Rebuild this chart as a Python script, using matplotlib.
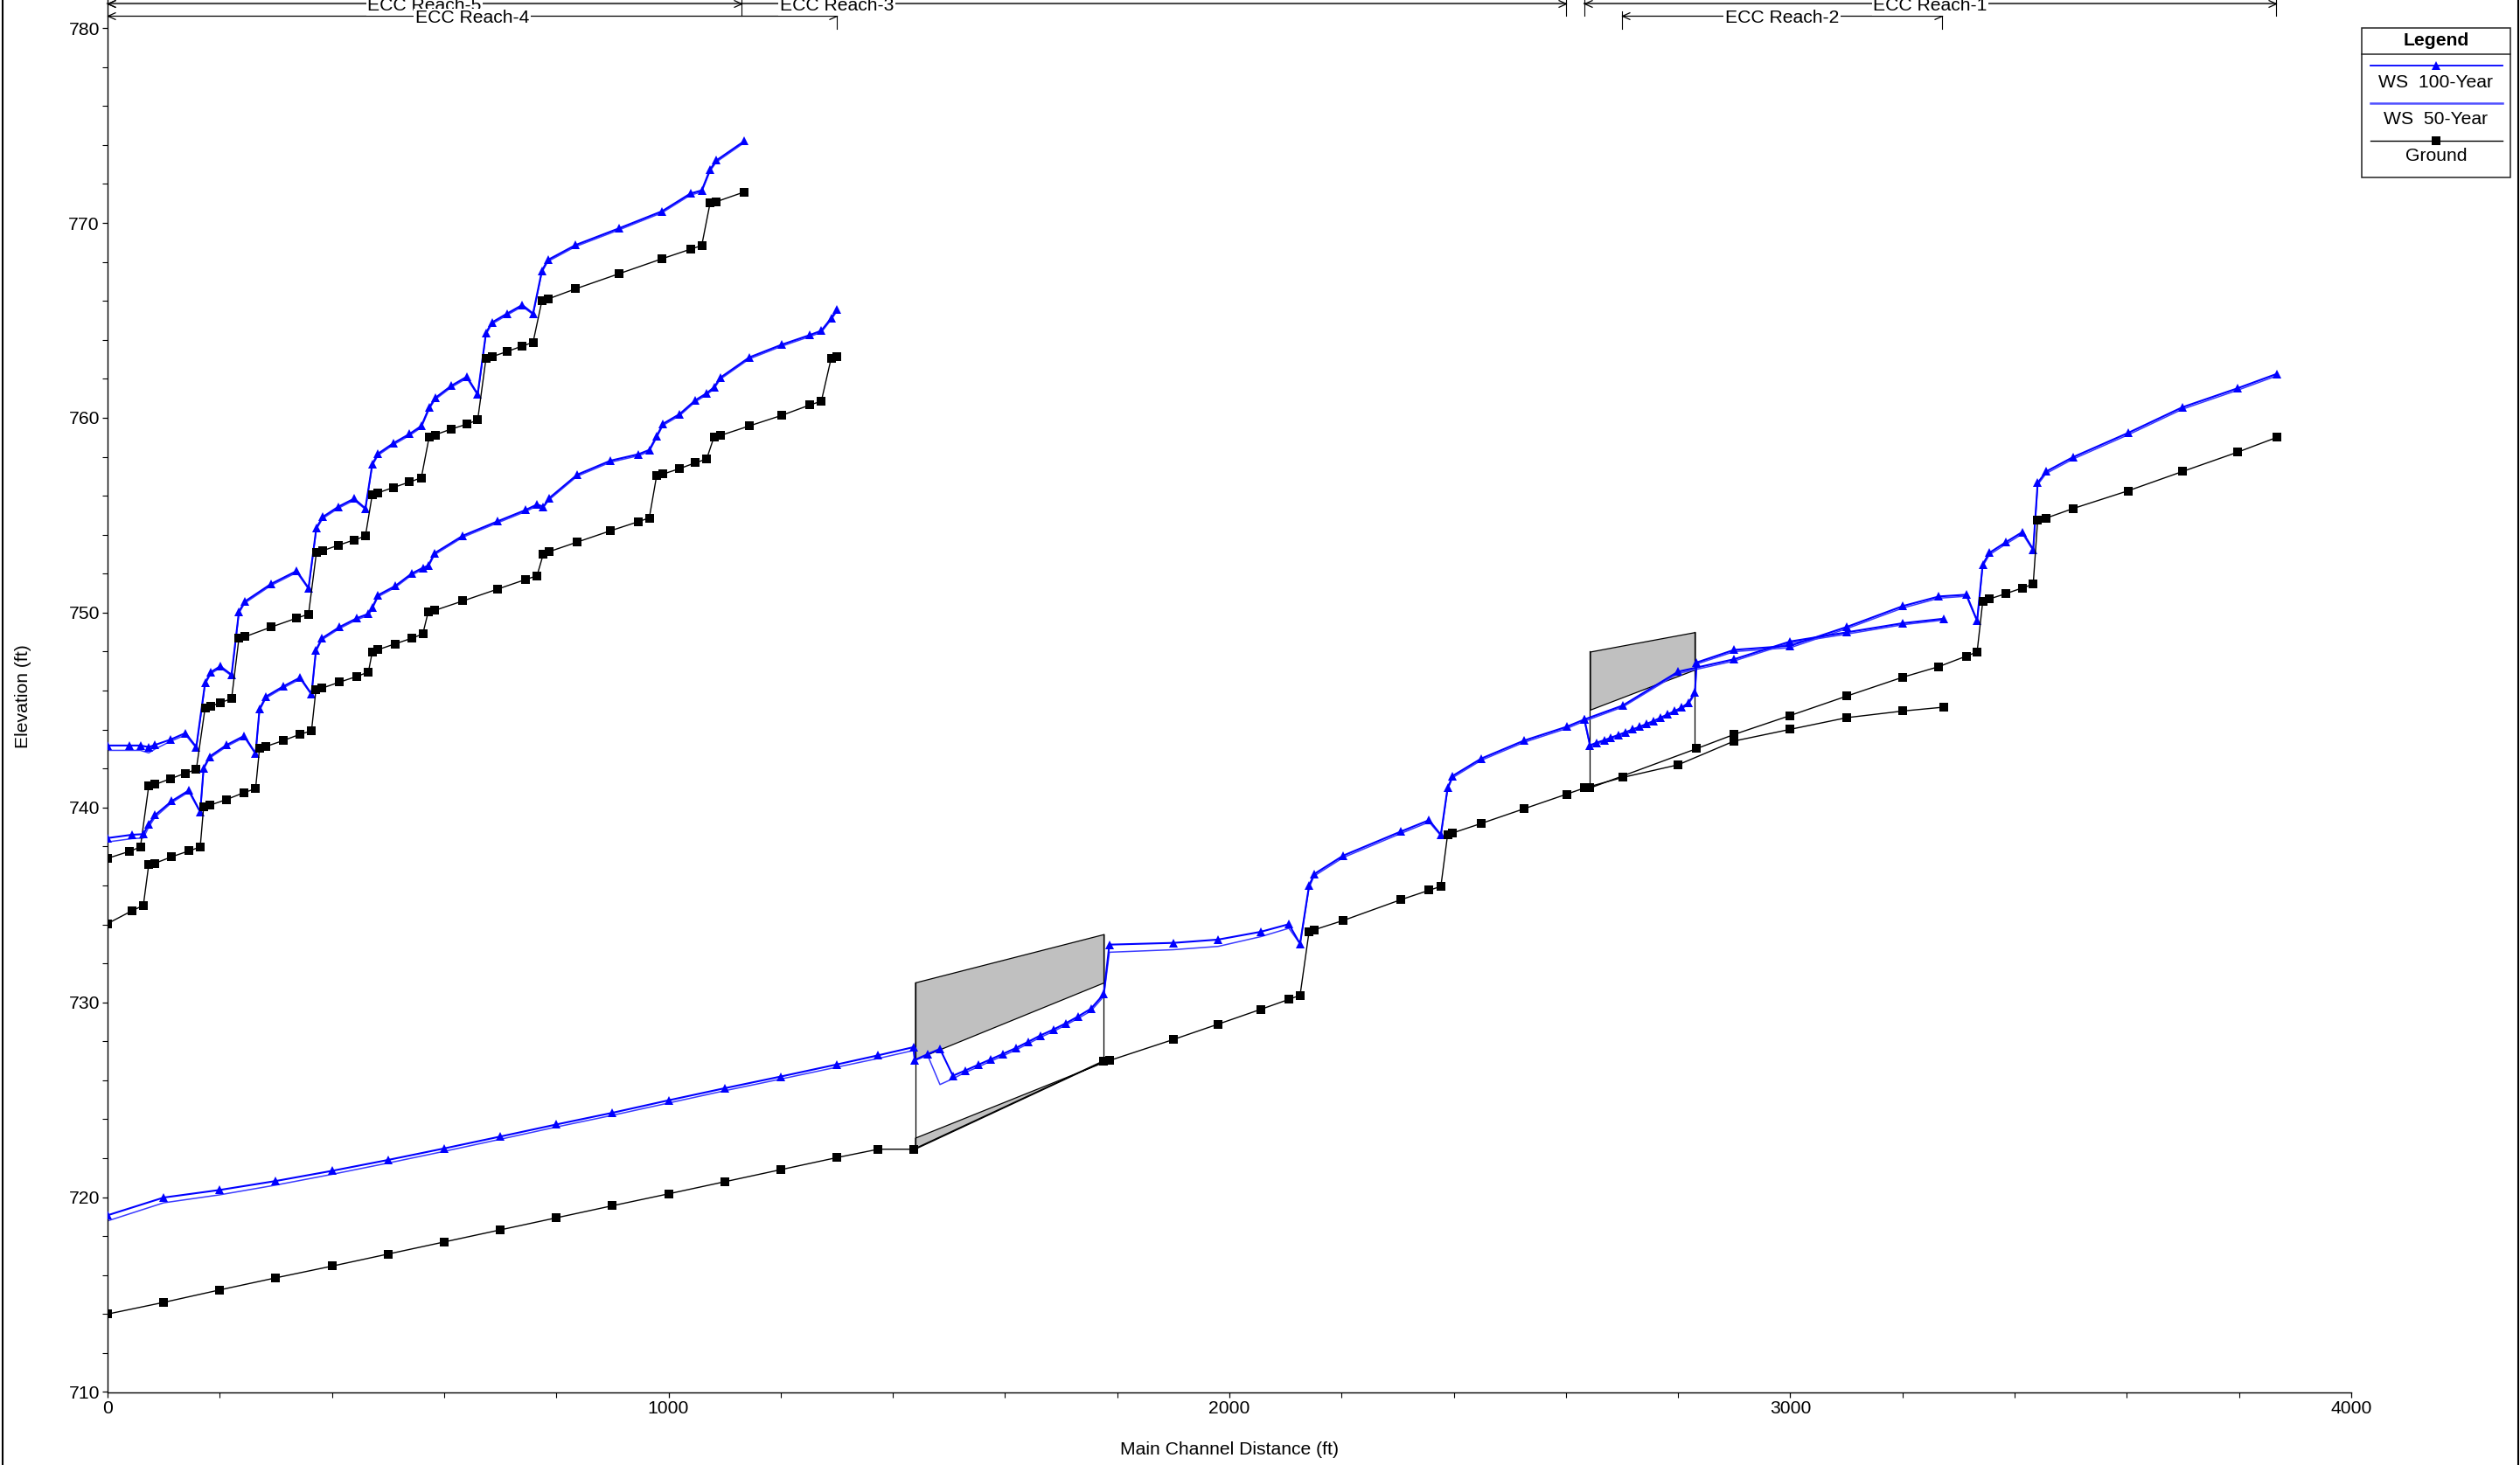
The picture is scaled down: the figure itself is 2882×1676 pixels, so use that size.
import matplotlib
matplotlib.use('Agg')
import matplotlib.pyplot as plt
from matplotlib.transforms import blended_transform_factory
from matplotlib.patches import Rectangle
from matplotlib.path import Path
from matplotlib.lines import Line2D
from matplotlib.ticker import MultipleLocator

plt.rcParams['font.family'] = ['Liberation Sans', 'DejaVu Sans']

# ---------------- data ----------------
# ECC Reach-5 (upper left profile)
r5_x = [0, 39.3, 58.6, 73.4, 84.8, 112.7, 139.0, 158.2, 173.9, 184.4,
        201.0, 221.1, 234.2, 244.7, 291.9, 337.4, 358.3, 372.3, 383.7, 411.7,
        439.6, 459.7, 472.0, 482.4, 510.4, 538.4, 559.4, 573.3, 583.8, 612.7,
        640.6, 659.9, 674.7, 685.2, 712.3, 739.4, 758.6, 774.4, 784.9, 834.7,
        911.6, 988.5, 1039.2, 1059.3, 1074.1, 1085.5, 1135.3]
r5_ground = [737.39, 737.75, 737.97, 741.10, 741.18, 741.48, 741.76, 741.95, 745.11, 745.19,
             745.38, 745.58, 748.68, 748.76, 749.26, 749.72, 749.92, 753.07, 753.18, 753.46,
             753.73, 753.92, 756.07, 756.15, 756.43, 756.70, 756.92, 759.01, 759.12, 759.42,
             759.67, 759.89, 763.05, 763.13, 763.40, 763.68, 763.87, 766.01, 766.09, 766.62,
             767.39, 768.16, 768.65, 768.84, 771.01, 771.09, 771.59]
r5_ws100 = [743.18, 743.18, 743.18, 743.10, 743.21, 743.49, 743.82, 743.10, 746.40, 746.95,
            747.25, 746.81, 750.05, 750.57, 751.48, 752.14, 751.26, 754.36, 754.91, 755.44,
            755.85, 755.35, 757.63, 758.16, 758.71, 759.17, 759.58, 760.52, 761.01, 761.64,
            762.11, 761.21, 764.36, 764.89, 765.35, 765.79, 765.35, 767.55, 768.10, 768.87,
            769.72, 770.60, 771.51, 771.67, 772.74, 773.21, 774.20]
r5_ws50 = [742.93, 742.93, 742.93, 742.80, 743.00, 743.40, 743.72, 743.05, 746.32, 746.87,
           747.17, 746.76, 749.97, 750.49, 751.40, 752.06, 751.21, 754.28, 754.83, 755.36,
           755.77, 755.30, 757.55, 758.08, 758.63, 759.09, 759.50, 760.44, 760.93, 761.56,
           762.03, 761.16, 764.28, 764.81, 765.27, 765.71, 765.30, 767.47, 768.02, 768.79,
           769.64, 770.52, 771.43, 771.59, 772.66, 773.13, 774.12]

# ECC Reach-4 (middle left profile)
r4_x = [0, 43.7, 63.8, 73.4, 84.8, 114.5, 145.1, 165.2, 171.3, 181.8,
        212.4, 243.8, 263.9, 270.9, 282.3, 312.9, 343.5, 363.6, 371.5, 382.0,
        413.4, 444.9, 465.0, 472.0, 482.4, 513.0, 541.9, 562.0, 571.6, 583.0,
        633.6, 695.7, 745.5, 765.6, 777.0, 787.5, 837.3, 896.7, 946.5, 965.8,
        978.9, 990.2, 1019.9, 1047.9, 1068.0, 1081.1, 1092.5, 1144.1, 1202.6, 1252.4,
        1272.5, 1290.0, 1300.5]
r4_ground = [734.04, 734.70, 734.97, 737.06, 737.14, 737.47, 737.77, 737.97, 740.03, 740.11,
             740.41, 740.77, 740.96, 743.02, 743.13, 743.43, 743.76, 743.93, 746.04, 746.12,
             746.43, 746.73, 746.95, 747.99, 748.10, 748.40, 748.68, 748.90, 750.03, 750.11,
             750.60, 751.21, 751.70, 751.89, 753.02, 753.13, 753.62, 754.20, 754.67, 754.86,
             757.03, 757.11, 757.39, 757.69, 757.88, 759.01, 759.09, 759.58, 760.13, 760.66,
             760.85, 763.05, 763.13]
r4_ws100 = [738.43, 738.60, 738.63, 739.15, 739.61, 740.33, 740.88, 739.78, 742.03, 742.61,
            743.21, 743.68, 742.77, 745.05, 745.69, 746.21, 746.67, 745.82, 748.07, 748.68,
            749.26, 749.72, 749.94, 750.27, 750.90, 751.37, 752.00, 752.30, 752.41, 753.05,
            753.95, 754.69, 755.27, 755.55, 755.44, 755.88, 757.08, 757.80, 758.13, 758.35,
            759.06, 759.69, 760.19, 760.90, 761.26, 761.56, 762.06, 763.10, 763.76, 764.25,
            764.47, 765.11, 765.55]
r4_ws50 = [738.23, 738.40, 738.43, 739.00, 739.50, 740.25, 740.80, 739.74, 741.95, 742.53,
           743.13, 743.60, 742.73, 744.97, 745.61, 746.13, 746.59, 745.78, 747.99, 748.60,
           749.18, 749.64, 749.86, 750.19, 750.82, 751.29, 751.92, 752.22, 752.33, 752.97,
           753.87, 754.61, 755.19, 755.47, 755.40, 755.80, 757.00, 757.72, 758.05, 758.27,
           758.98, 759.61, 760.11, 760.82, 761.18, 761.48, 761.98, 763.02, 763.68, 764.17,
           764.39, 765.03, 765.47]

# ECC Reach-3 (lower main profile, 0 - 2600 ft)
r3_ws_x = [0, 100, 200, 300, 400, 500, 600, 700, 800, 900, 1000, 1100, 1200, 1300, 1374, 1437,
           1439, 1462, 1484, 1507, 1529, 1552, 1574, 1596, 1619, 1641, 1663, 1686, 1708, 1730, 1753,
           1776, 1786, 1900, 1980, 2056, 2106, 2126, 2142, 2151,
           2203, 2306, 2356, 2377, 2389, 2398, 2449, 2525, 2601]
r3_ws100 = [719.07, 719.98, 720.37, 720.83, 721.35, 721.91, 722.50, 723.11, 723.73, 724.33,
            724.97, 725.59, 726.19, 726.81, 727.28, 727.70,
            727.04, 727.34, 727.61, 726.23, 726.50, 726.79, 727.07, 727.35, 727.65, 727.97,
            728.30, 728.60, 728.92, 729.27, 729.67,
            730.42, 732.96, 733.05, 733.22, 733.62, 734.01, 733.00, 735.98, 736.58,
            737.53, 738.77, 739.35, 738.60, 741.00, 741.62, 742.51, 743.43, 744.14]
r3_ws50 = [718.78, 719.71, 720.12, 720.62, 721.17, 721.75, 722.35, 722.97, 723.60, 724.20,
           724.83, 725.46, 726.06, 726.67, 727.12, 727.53,
           727.01, 727.28, 725.78, 726.08, 726.40, 726.68, 726.97, 727.25, 727.55, 727.87,
           728.20, 728.50, 728.83, 729.17, 729.55,
           730.30, 732.57, 732.70, 732.87, 733.37, 733.80, 733.00, 735.88, 736.48,
           737.43, 738.67, 739.25, 738.55, 740.92, 741.53, 742.42, 743.34, 744.05]
r3_g_x = [0, 100, 200, 300, 400, 500, 600, 700, 800, 900, 1000, 1100, 1200, 1300, 1374, 1437,
          1776, 1786, 1900, 1980, 2056, 2106, 2126, 2142, 2151,
          2203, 2306, 2356, 2377, 2389, 2398, 2449, 2525, 2601]
r3_ground = [714.00, 714.60, 715.24, 715.86, 716.46, 717.08, 717.70, 718.32, 718.94, 719.56,
             720.17, 720.79, 721.41, 722.03, 722.46, 722.46,
             727.00, 727.01, 728.09, 728.88, 729.64, 730.15, 730.36, 733.62, 733.72,
             734.20, 735.27, 735.75, 735.95, 738.60, 738.69, 739.18, 739.93, 740.68]

# ECC Reach-1 (lower main profile, 2633 - 3870 ft)
r1_ws_x = [2633, 2643, 2654, 2668, 2680, 2694, 2706, 2719, 2731, 2744, 2756, 2769, 2781, 2794,
           2806, 2818, 2830, 2833, 2900, 3000, 3101, 3201, 3265, 3314, 3333, 3343, 3355, 3385,
           3414, 3433, 3441, 3456, 3504, 3602, 3699, 3797, 3868]
r1_ws100 = [744.52, 743.19, 743.32, 743.45, 743.58, 743.73, 743.86, 744.01, 744.14, 744.29,
            744.44, 744.61, 744.78, 744.95, 745.13, 745.36, 745.90, 747.44, 748.09, 748.30,
            749.27, 750.34, 750.83, 750.92, 749.59, 752.48, 753.07, 753.63, 754.14, 753.24,
            756.66, 757.24, 757.98, 759.22, 760.54, 761.51, 762.26]
r1_ws50 = [744.43, 743.12, 743.25, 743.38, 743.51, 743.65, 743.78, 743.93, 744.06, 744.21,
           744.36, 744.53, 744.70, 744.87, 745.05, 745.28, 745.82, 747.36, 748.00, 748.20,
           749.18, 750.24, 750.74, 750.84, 749.55, 752.38, 752.97, 753.53, 754.04, 753.18,
           756.56, 757.14, 757.88, 759.12, 760.44, 761.41, 762.16]
r1_g_x = [2633, 2643, 2833, 2900, 3000, 3101, 3201, 3265, 3314, 3333, 3343, 3355, 3385, 3414,
          3433, 3441, 3456, 3504, 3602, 3699, 3797, 3868]
r1_ground = [741.00, 741.00, 743.02, 743.75, 744.72, 745.72, 746.69, 747.23, 747.77, 747.98,
             750.56, 750.70, 750.98, 751.27, 751.46, 754.77, 754.85, 755.34, 756.25, 757.24,
             758.23, 759.00]

# ECC Reach-2 (2700 - 3270 ft)
r2_x = [2633, 2701, 2800, 2900, 3000, 3101, 3201, 3274]
r2_ground = [741.00, 741.54, 742.19, 743.41, 744.01, 744.61, 744.95, 745.15]
r2_ws100 = [744.52, 745.23, 746.97, 747.61, 748.52, 748.99, 749.46, 749.69]
r2_ws50 = [744.43, 745.15, 746.88, 747.52, 748.44, 748.90, 749.38, 749.62]

# Culverts (x stations, deck top, deck low chord, invert, bed)
c1_x = [1439.6, 1776.0]
c1_top = [731.02, 733.50]
c1_low = [727.07, 731.02]
c1_inv = [723.05, 726.94]
c1_bed = [722.49, 727.00]
c2_x = [2643.0, 2830.0]
c2_top = [748.00, 749.00]
c2_low = [745.02, 747.08]
c2_bed = [741.00, 743.02]

# Reach annotations: (label, start, end, row)
reach_names = ['ECC Reach-5', 'ECC Reach-3', 'ECC Reach-4', 'ECC Reach-1', 'ECC Reach-2']
reach_start = [0, 0, 0, 2633, 2700]
reach_end = [1130, 2600, 1300, 3866, 3270]
reach_row = [1, 1, 2, 1, 2]

x_ticks = [0, 1000, 2000, 3000, 4000]
y_ticks = [710, 720, 730, 740, 750, 760, 770, 780]
legend_labels = ['WS  100-Year', 'WS  50-Year', 'Ground']

# ---------------- figure ----------------
W, H = 2882, 1676
fig = plt.figure(figsize=(W / 100, H / 100), dpi=100)
fig.patch.set_facecolor('white')
ax_bottom_px = 1592.5
ax = fig.add_axes([123 / W, (H - ax_bottom_px) / H, (2689 - 123) / W, ax_bottom_px / H])
ax.set_xlim(0, 4000)
ax.set_ylim(710, 781.44)

C100 = '#0000FF'
C50 = '#3A3AFF'
FS = 15.2

for s in ['top', 'right']:
    ax.spines[s].set_visible(False)
for s in ['left', 'bottom']:
    ax.spines[s].set_linewidth(1.0)

ax.set_xticks(x_ticks)
ax.set_yticks(y_ticks)
ax.xaxis.set_minor_locator(MultipleLocator(200))
ax.yaxis.set_minor_locator(MultipleLocator(2))
ax.tick_params(which='major', direction='out', length=4.5, width=0.9, labelsize=FS, pad=2)
ax.tick_params(which='minor', direction='out', length=4, width=0.8)

ax.set_xlabel('Main Channel Distance (ft)', fontsize=FS, va='center')
ax.xaxis.set_label_coords(0.5, -(1658 - ax_bottom_px) / ax_bottom_px)
ax.set_ylabel('Elevation (ft)', fontsize=FS, va='center')
ax.yaxis.set_label_coords(-(123 - 27) / (2689 - 123), 0.5)

# culverts
ax.fill_between(c1_x, c1_low, c1_top, facecolor='#C0C0C0', edgecolor='black', linewidth=0.9, zorder=1)
ax.fill_between(c1_x, c1_bed, c1_inv, facecolor='#C0C0C0', edgecolor='black', linewidth=0.9, zorder=1)
for i in range(2):
    ax.plot([c1_x[i], c1_x[i]], [c1_bed[i], c1_top[i]], color='black', lw=0.9, zorder=1)
ax.fill_between(c2_x, c2_low, c2_top, facecolor='#C0C0C0', edgecolor='black', linewidth=0.9, zorder=1)
for i in range(2):
    ax.plot([c2_x[i], c2_x[i]], [c2_bed[i], c2_top[i]], color='black', lw=0.9, zorder=1)

main_ws_x = r3_ws_x + r1_ws_x
main_ws100 = r3_ws100 + r1_ws100
main_ws50 = r3_ws50 + r1_ws50
main_g_x = r3_g_x + r1_g_x
main_ground = r3_ground + r1_ground

profiles = [
    (r5_x, r5_ws100, r5_ws50, r5_x, r5_ground),
    (r4_x, r4_ws100, r4_ws50, r4_x, r4_ground),
    (main_ws_x, main_ws100, main_ws50, main_g_x, main_ground),
    (r2_x, r2_ws100, r2_ws50, r2_x, r2_ground),
]
for wx, w100, w50, gx, g in profiles:
    ax.plot(wx, w50, color=C50, lw=1.1, zorder=2)
    ax.plot(wx, w100, color=C100, lw=1.5, marker='^', ms=7.5, mfc=C100, mec=C100, mew=0, zorder=3)
    ax.plot(gx, g, color='black', lw=1.0, marker='s', ms=6.5, mfc='black', mec='black', mew=0, zorder=3)

# ---------------- overlay (pixel coords) ----------------
ov = fig.add_axes([0, 0, 1, 1], zorder=5)
ov.set_xlim(0, W)
ov.set_ylim(H, 0)
ov.axis('off')
ov.patch.set_alpha(0)

trans = blended_transform_factory(ax.transData, ov.transData)
left_chev = Path([(1.0, 0.45), (0, 0), (1.0, -0.45)], [Path.MOVETO, Path.LINETO, Path.LINETO])
right_chev = Path([(-1.0, 0.45), (0, 0), (-1.0, -0.45)], [Path.MOVETO, Path.LINETO, Path.LINETO])
row_y = {1: 4.5, 2: 18.0}
row_tick = {1: (0, 18), 2: (13, 33)}
row_style = {1: dict(color='#4a4a4a', lw=1.5), 2: dict(color='black', lw=0.9)}
for name, x0, x1, row in zip(reach_names, reach_start, reach_end, reach_row):
    y = row_y[row]
    ov.plot([x0, x1], [y, y], transform=trans, clip_on=False, zorder=1, **row_style[row])
    ov.plot([x0], [y], transform=trans, marker=left_chev, ms=13, mfc='none', mec='black', mew=0.9,
            clip_on=False, zorder=2)
    ov.plot([x1], [y], transform=trans, marker=right_chev, ms=13, mfc='none', mec='black', mew=0.9,
            clip_on=False, zorder=2)
    for xe in (x0, x1):
        if xe > 0:
            ov.plot([xe, xe], list(row_tick[row]), transform=trans, color='black', lw=0.8, clip_on=False)
    ov.text((x0 + x1) / 2, y + 2.5, name, transform=trans, ha='center', va='center', fontsize=FS,
            bbox=dict(facecolor='white', edgecolor='none', pad=1.0), zorder=3, clip_on=False)

# legend box
ov.add_patch(Rectangle((2701, 32), 170, 171, facecolor='white', edgecolor='#222222', lw=1.1, zorder=4))
ov.plot([2701, 2871], [62.3, 62.3], color='#222222', lw=1.1, zorder=5)
ov.text(2786, 46, 'Legend', ha='center', va='center', fontsize=FS, fontweight='bold', zorder=5)
ov.plot([2711, 2862], [75, 75], color=C100, lw=1.3, zorder=5)
ov.plot([2786], [75], marker='^', ms=7.5, color=C100, mew=0, zorder=6)
ov.text(2786, 95, legend_labels[0], ha='center', va='center', fontsize=FS, zorder=5)
ov.plot([2711, 2862], [118, 118], color='#5050FF', lw=1.8, zorder=5)
ov.text(2786, 137, legend_labels[1], ha='center', va='center', fontsize=FS, zorder=5)
ov.plot([2711, 2862], [161, 161], color='black', lw=1.0, zorder=5)
ov.plot([2786], [161], marker='s', ms=6.5, color='black', mew=0, zorder=6)
ov.text(2786, 179, legend_labels[2], ha='center', va='center', fontsize=FS, zorder=5)

# figure frame edges
ov.add_line(Line2D([3, 3], [0, H], color='black', lw=1.5))
ov.add_line(Line2D([2880, 2880], [0, H], color='black', lw=1.5))

fig.savefig('out.png', dpi=100, facecolor='white')
